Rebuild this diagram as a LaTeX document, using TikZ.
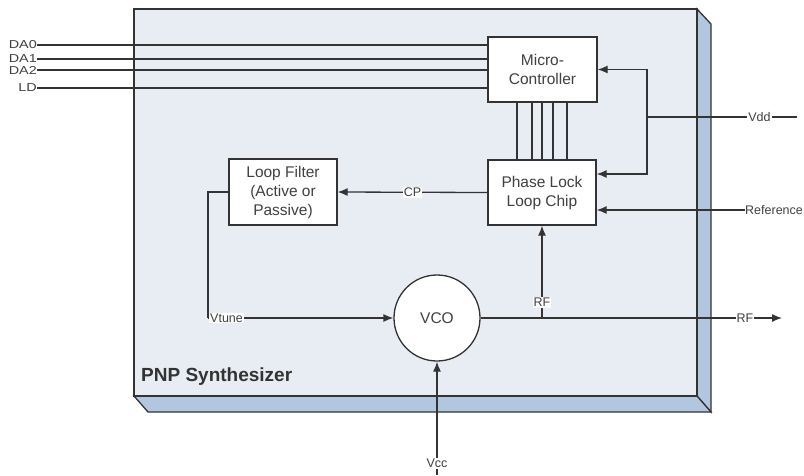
\documentclass[tikz,border=0pt]{standalone}
\usepackage{graphicx}
\usepackage{fontspec}
\setmainfont{Liberation Sans}
\usetikzlibrary{arrows.meta}
\definecolor{frontcol}{HTML}{E8ECF3}
\definecolor{sidecol}{HTML}{B3C6DF}
\definecolor{ink}{HTML}{333333}
\definecolor{txt}{HTML}{404040}
\tikzset{
  blk/.style={draw=ink, fill=white, line width=1.3pt, minimum width=108pt, minimum height=65pt, inner sep=0pt, align=center, text=txt, font=\fontsize{15.5}{19}\selectfont},
  wire/.style={draw=ink, line width=1.3pt},
  arr/.style={wire, -{Latex[length=10pt,width=8pt]}},
  lbl/.style={text=txt, font=\fontsize{12.5}{14}\selectfont, inner sep=1pt},
  lblw/.style={lbl, fill=white},
  dalbl/.style={text=txt, font=\fontsize{11.5}{12}\selectfont, inner sep=0pt, anchor=east},
}
\newcommand{\wide}[1]{\scalebox{1.25}[1]{#1}}
\begin{document}
\begin{tikzpicture}[x=1pt,y=-1pt]
\useasboundingbox (0,0) rectangle (804,475);
% 3D frame
\filldraw[fill=sidecol, draw=ink, line width=1.3pt] (697,9) -- (711,24) -- (711,412) -- (697,396) -- cycle;
\filldraw[fill=sidecol, draw=ink, line width=1.3pt] (134,396) -- (148,412) -- (711,412) -- (697,396) -- cycle;
\filldraw[fill=frontcol, draw=ink, line width=1.3pt] (134,9) rectangle (697,396);
\node[anchor=west, text=ink, font=\fontsize{19}{22}\selectfont\bfseries, inner sep=0pt] (title) at (141,377) {PNP Synthesizer};
% blocks
\node[blk, minimum width=109pt] (micro) at (542.5,69.5) {Micro-\\Controller};
\node[blk] (pll) at (542,192.5) {Phase Lock\\Loop Chip};
\node[blk, minimum height=66pt] (lf) at (283,192) {Loop Filter\\(Active or\\Passive)};
\node[draw=ink, fill=white, line width=1.3pt, circle, minimum size=86pt, inner sep=0pt, text=txt, font=\fontsize{15.5}{19}\selectfont] (vco) at (437,318) {VCO};
% data inputs
\node[dalbl] (da0) at (37,45) {\wide{DA0}};
\node[dalbl] (da1) at (37,59) {\wide{DA1}};
\node[dalbl] (da2) at (37,70) {\wide{DA2}};
\node[dalbl] (ld) at (37,88) {\wide{LD}};
\foreach \n in {da0,da1,da2,ld} \draw[wire] (\n.east) -- (\n.east -| micro.west);
% bus between micro and pll
\foreach \x in {517,532,542,553,567} \draw[wire] (micro.south -| \x,0) -- (pll.north -| \x,0);
% Vdd
\coordinate (vddend) at (797,117);
\coordinate (vddj) at (647,117);
\draw[wire] (vddend) -- node[lblw, pos=0.25]{Vdd} (vddj);
\draw[arr] (vddj) |- (micro.east);
\draw[arr] (vddj) |- ([yshift=18.5pt]pll.east);
% Reference
\node[lbl, anchor=west, inner sep=0pt] (ref) at (745,210) {Reference};
\draw[arr] (ref.west) -- ([yshift=-17.5pt]pll.east);
% CP
\draw[arr] (pll.west) -- node[lblw, pos=0.5]{CP} (lf.east);
% Vtune
\coordinate (vt) at (208,318);
\draw[wire] (lf.west) -| (vt);
\draw[arr] (vt) -- node[lblw, pos=0.1]{Vtune} (vco.west);
% RF out
\coordinate (rfend) at (782,318);
\coordinate (rfj) at (542,318);
\draw[arr] (vco.east) -- node[lblw, pos=0.877]{RF} (rfend);
\draw[arr] (rfj) -- node[lblw, pos=0.17]{RF} (pll.south);
% Vcc
\coordinate (vccend) at (437,475);
\draw[arr] (vccend) -- node[lblw, pos=0.104]{Vcc} (vco.south);
\end{tikzpicture}
\end{document}
